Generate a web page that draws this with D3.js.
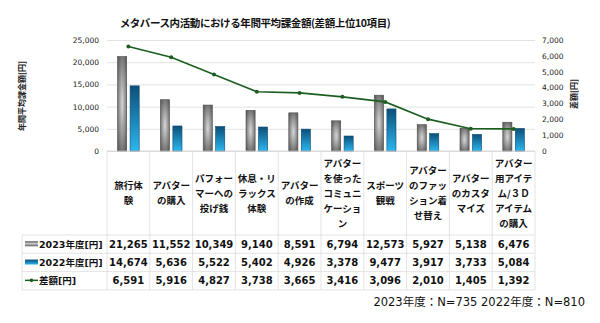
<!DOCTYPE html>
<html>
<head>
<meta charset="utf-8">
<script src="https://cdn.jsdelivr.net/npm/d3@7"></script>
<style>
  body { margin: 0; background: #fff; }
  svg { display: block; }
</style>
</head>
<body>
<svg id="canvas" width="600" height="323"></svg>
<script>
'use strict';

// chart data
var categories = [
  '旅行体\n験',
  'アバター\nの購入',
  'パフォー\nマーへの\n投げ銭',
  '休息・リ\nラックス\n体験',
  'アバター\nの作成',
  'アバター\nを使った\nコミュニ\nケーショ\nン',
  'スポーツ\n観戦',
  'アバター\nのファッ\nション着\nせ替え',
  'アバター\nのカスタ\nマイズ',
  'アバター\n用アイテ\nム/３Ｄ\nアイテム\nの購入'
];
var values2023 = [21265, 11552, 10349, 9140, 8591, 6794, 12573, 5927, 5138, 6476];
var values2022 = [14674, 5636, 5522, 5402, 4926, 3378, 9477, 3917, 3733, 5084];
var diffValues = [6591, 5916, 4827, 3738, 3665, 3416, 3096, 2010, 1405, 1392];
var leftTicks = [0, 5000, 10000, 15000, 20000, 25000];
var rightTicks = [0, 1000, 2000, 3000, 4000, 5000, 6000, 7000];
var seriesNames = ['2023年度[円]', '2022年度[円]', '差額[円]'];

var NUM_FONT = '"DejaVu Sans", "Noto Sans CJK JP", sans-serif';
var JP_FONT = '"Noto Sans CJK JP", sans-serif';
var LINE_COLOR = '#1b5e20';
var GRID_COLOR = '#e3e3e3';

function MakeGradients(svg) {
  var defs = svg.append('defs');
  var gray = defs.append('radialGradient').attr('id', 'grayBar')
      .attr('cx', '50%').attr('cy', '50%').attr('r', '70%');
  gray.append('stop').attr('offset', '0%').attr('stop-color', '#d6d6d6');
  gray.append('stop').attr('offset', '100%').attr('stop-color', '#4f4f4f');

  var blue = defs.append('linearGradient').attr('id', 'blueBar')
      .attr('x1', 0).attr('y1', 0).attr('x2', 0).attr('y2', 1);
  blue.append('stop').attr('offset', '0%').attr('stop-color', '#0c4f78');
  blue.append('stop').attr('offset', '100%').attr('stop-color', '#2bb6f0');

  var grayIcon = defs.append('linearGradient').attr('id', 'grayIcon')
      .attr('x1', 0).attr('y1', 0).attr('x2', 0).attr('y2', 1);
  grayIcon.append('stop').attr('offset', '0%').attr('stop-color', '#555');
  grayIcon.append('stop').attr('offset', '50%').attr('stop-color', '#cfcfcf');
  grayIcon.append('stop').attr('offset', '100%').attr('stop-color', '#555');
}

function RenderChart() {
  var svg = d3.select('#canvas');
  MakeGradients(svg);

  var plotLeft = 107, plotRight = 535, plotTop = 40, plotBottom = 151;
  var headerBottom = 235, rowH = 18.3;

  var x = d3.scaleBand().domain(d3.range(categories.length))
      .range([plotLeft, plotRight]).paddingInner(0).paddingOuter(0);
  var x1 = d3.scaleBand().domain([0, 1]).range([0, x.bandwidth()])
      .paddingInner(0.27).paddingOuter(0.85);
  var y = d3.scaleLinear().domain([0, 25000]).range([plotBottom, plotTop]);
  var yR = d3.scaleLinear().domain([0, 7000]).range([plotBottom, plotTop]);

  // title
  svg.append('text')
      .attr('x', 255).attr('y', 27)
      .attr('text-anchor', 'middle')
      .attr('font-family', JP_FONT)
      .attr('font-weight', 'bold')
      .attr('font-size', 10.5)
      .attr('letter-spacing', -0.4)
      .attr('fill', '#111')
      .text('メタバース内活動における年間平均課金額(差額上位10項目)');

  // gridlines
  svg.append('g')
      .attr('transform', 'translate(' + plotLeft + ',0)')
      .call(d3.axisLeft(y).tickValues(leftTicks).tickSize(-(plotRight - plotLeft)).tickFormat(''))
      .call(function(g) {
        g.select('.domain').remove();
        g.selectAll('line').attr('stroke', GRID_COLOR);
      });

  // left axis
  svg.append('g')
      .attr('transform', 'translate(' + (plotLeft - 8) + ',0)')
      .call(d3.axisLeft(y).tickValues(leftTicks).tickSize(0).tickPadding(0).tickFormat(d3.format(',')))
      .call(function(g) {
        g.select('.domain').remove();
        g.selectAll('text').attr('font-family', NUM_FONT).attr('font-size', 7.5).attr('fill', '#222');
      });

  // right axis
  svg.append('g')
      .attr('transform', 'translate(' + (plotRight + 7) + ',0)')
      .call(d3.axisRight(yR).tickValues(rightTicks).tickSize(0).tickPadding(0).tickFormat(d3.format(',')))
      .call(function(g) {
        g.select('.domain').remove();
        g.selectAll('text').attr('font-family', NUM_FONT).attr('font-size', 7.5).attr('fill', '#222');
      });

  // axis titles
  svg.append('text')
      .attr('transform', 'translate(25,96) rotate(-90)')
      .attr('text-anchor', 'middle')
      .attr('font-family', JP_FONT).attr('font-weight', 'bold')
      .attr('font-size', 8).attr('fill', '#222')
      .text('年間平均課金額[円]');
  svg.append('text')
      .attr('transform', 'translate(577,94) rotate(-90)')
      .attr('text-anchor', 'middle')
      .attr('font-family', JP_FONT).attr('font-weight', 'bold')
      .attr('font-size', 8).attr('fill', '#222')
      .text('差額[円]');

  // bars
  var groups = svg.append('g').selectAll('g')
      .data(categories)
    .enter().append('g')
      .attr('transform', function(d, i) { return 'translate(' + x(i) + ',0)'; });
  groups.append('rect')
      .attr('x', x1(0)).attr('width', x1.bandwidth())
      .attr('y', function(d, i) { return y(values2023[i]); })
      .attr('height', function(d, i) { return plotBottom - y(values2023[i]); })
      .attr('fill', 'url(#grayBar)')
      .attr('stroke', '#4a4a4a').attr('stroke-width', 0.6);
  groups.append('rect')
      .attr('x', x1(1)).attr('width', x1.bandwidth())
      .attr('y', function(d, i) { return y(values2022[i]); })
      .attr('height', function(d, i) { return plotBottom - y(values2022[i]); })
      .attr('fill', 'url(#blueBar)')
      .attr('stroke', '#0b4a70').attr('stroke-width', 0.6);

  // difference line
  var line = d3.line()
      .x(function(d, i) { return x(i) + x.bandwidth() / 2; })
      .y(function(d) { return yR(d); });
  svg.append('path')
      .datum(diffValues)
      .attr('d', line)
      .attr('fill', 'none')
      .attr('stroke', LINE_COLOR)
      .attr('stroke-width', 1.6);
  svg.append('g').selectAll('circle')
      .data(diffValues)
    .enter().append('circle')
      .attr('cx', function(d, i) { return x(i) + x.bandwidth() / 2; })
      .attr('cy', function(d) { return yR(d); })
      .attr('r', 2)
      .attr('fill', LINE_COLOR);

  // table grid
  var tableLeft = 22, tableBottom = headerBottom + rowH * 3;
  var grid = svg.append('g').attr('stroke', '#dcdcdc').attr('stroke-width', 0.8);
  grid.append('line').attr('x1', plotLeft).attr('x2', plotRight)
      .attr('y1', plotBottom).attr('y2', plotBottom).attr('stroke', '#d0d0d0');
  d3.range(4).forEach(function(r) {
    var yy = headerBottom + r * rowH;
    grid.append('line').attr('x1', tableLeft).attr('x2', plotRight)
        .attr('y1', yy).attr('y2', yy);
  });
  grid.append('line').attr('x1', tableLeft).attr('x2', tableLeft)
      .attr('y1', headerBottom).attr('y2', tableBottom);
  d3.range(categories.length + 1).forEach(function(i) {
    var xx = i < categories.length ? x(i) : plotRight;
    grid.append('line').attr('x1', xx).attr('x2', xx)
        .attr('y1', plotBottom).attr('y2', tableBottom);
  });

  // category labels
  var lineH = 15;
  var labels = svg.append('g').selectAll('text')
      .data(categories)
    .enter().append('text')
      .attr('text-anchor', 'middle')
      .attr('font-family', JP_FONT).attr('font-weight', 'bold')
      .attr('font-size', 9.5).attr('fill', '#111');
  labels.each(function(d, i) {
    var parts = d.split('\n');
    var cy = (plotBottom + headerBottom) / 2;
    var y0 = cy - (parts.length - 1) * lineH / 2 + 3.5;
    var t = d3.select(this);
    parts.forEach(function(p, k) {
      t.append('tspan')
          .attr('x', x(i) + x.bandwidth() / 2)
          .attr('y', y0 + k * lineH)
          .text(p);
    });
  });

  // table rows
  var rows = [values2023, values2022, diffValues];
  var fmt = d3.format(',');
  rows.forEach(function(vals, r) {
    var cy = headerBottom + r * rowH + rowH / 2 + 3.6;
    svg.append('g').selectAll('text')
        .data(vals)
      .enter().append('text')
        .attr('x', function(d, i) { return x(i) + x.bandwidth() / 2; })
        .attr('y', cy)
        .attr('text-anchor', 'middle')
        .attr('font-family', NUM_FONT).attr('font-weight', 'bold')
        .attr('font-size', 10).attr('fill', '#111')
        .text(fmt);
    svg.append('text')
        .attr('x', 39).attr('y', cy)
        .attr('font-family', NUM_FONT).attr('font-weight', 'bold')
        .attr('font-size', 9.5).attr('fill', '#111')
        .text(seriesNames[r]);
    var iy = cy - 4;
    if (r === 0) {
      svg.append('rect').attr('x', 25).attr('y', iy - 2.5).attr('width', 13).attr('height', 5)
          .attr('fill', 'url(#grayIcon)');
    } else if (r === 1) {
      svg.append('rect').attr('x', 25).attr('y', iy - 2.5).attr('width', 13).attr('height', 5)
          .attr('fill', 'url(#blueBar)');
    } else {
      svg.append('line').attr('x1', 25).attr('x2', 38).attr('y1', iy).attr('y2', iy)
          .attr('stroke', LINE_COLOR).attr('stroke-width', 1.5);
      svg.append('circle').attr('cx', 31.5).attr('cy', iy).attr('r', 1.8).attr('fill', LINE_COLOR);
    }
  });

  // footnote
  svg.append('text')
      .attr('x', 585).attr('y', 306)
      .attr('text-anchor', 'end')
      .attr('font-family', NUM_FONT)
      .attr('font-size', 11.5).attr('fill', '#111')
      .text('2023年度：N=735  2022年度：N=810');
}

RenderChart();
</script>
</body>
</html>
